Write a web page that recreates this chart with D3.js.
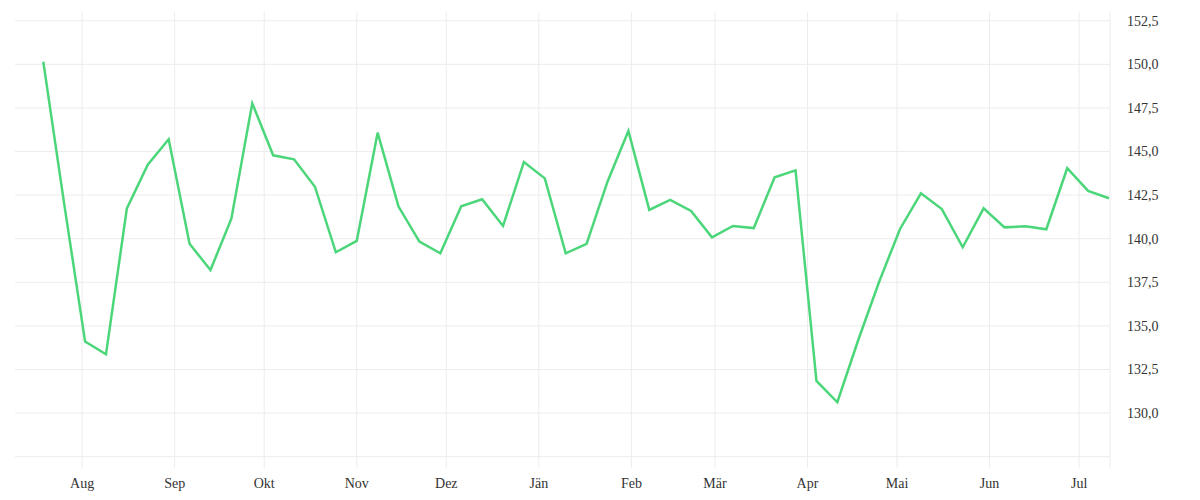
<!DOCTYPE html>
<html>
<head>
<meta charset="utf-8">
<script src="https://cdn.jsdelivr.net/npm/d3@7"></script>
<style>
  body { margin: 0; background: #fff; }
  svg text { font-family: "Liberation Serif", "DejaVu Serif", serif; fill: #333; }
</style>
</head>
<body>
<div id="chart"></div>
<script>
// weekly values, first week starting 2021-07-19
const startDate = "2021-07-19";
const values = [
    150.15, 142.0, 134.1, 133.37, 141.74, 144.24, 145.7, 139.71, 138.2, 141.15,
    147.76, 144.78, 144.55, 142.98, 139.22, 139.87, 146.08, 141.84, 139.83, 139.16,
    141.86, 142.26, 140.73, 144.4, 143.46, 139.16, 139.7, 143.27, 146.18, 141.65,
    142.22, 141.59, 140.08, 140.73, 140.61, 143.52, 143.92, 131.84, 130.62, 134.19,
    137.53, 140.56, 142.6, 141.7, 139.51, 141.74, 140.65, 140.71, 140.54, 144.04,
    142.74, 142.32
];
const monthLabels = ["Aug", "Sep", "Okt", "Nov", "Dez", "Jän", "Feb", "Mär", "Apr", "Mai", "Jun", "Jul"];
const yTicks = [127.5, 130, 132.5, 135, 137.5, 140, 142.5, 145, 147.5, 150, 152.5];

const width = 1200;
const height = 500;

const parse = d3.timeParse("%Y-%m-%d");
const t0 = parse(startDate);
const data = values.map((v, i) => ({ date: d3.timeDay.offset(t0, i * 7), value: v }));

const plotLeft = 15;
const plotRight = 1110;
const plotTop = 12;
const plotBottom = 468;

const x = d3.scaleTime()
    .domain(d3.extent(data, (d) => d.date))
    .range([43.3, 1109]);

const y = d3.scaleLinear()
    .domain([126.85, 153.0])
    .range([plotBottom, plotTop]);

const svg = d3.select("#chart")
    .append("svg")
    .attr("width", width)
    .attr("height", height);

// month ticks: first of each month after start
const months = d3.timeMonth.range(d3.timeMonth.ceil(t0), data[data.length - 1].date);

// vertical grid
svg.append("g")
    .selectAll("line")
    .data(months)
    .enter()
    .append("line")
    .attr("x1", (d) => x(d))
    .attr("x2", (d) => x(d))
    .attr("y1", plotTop)
    .attr("y2", plotBottom)
    .attr("stroke", "#ececec")
    .attr("stroke-width", 1);

// horizontal grid
svg.append("g")
    .selectAll("line")
    .data(yTicks)
    .enter()
    .append("line")
    .attr("x1", plotLeft)
    .attr("x2", plotRight)
    .attr("y1", (d) => y(d))
    .attr("y2", (d) => y(d))
    .attr("stroke", "#ececec")
    .attr("stroke-width", 1);

// right axis line
svg.append("line")
    .attr("x1", plotRight)
    .attr("x2", plotRight)
    .attr("y1", plotTop)
    .attr("y2", plotBottom)
    .attr("stroke", "#ececec");

// x labels
svg.append("g")
    .selectAll("text")
    .data(months)
    .enter()
    .append("text")
    .attr("x", (d) => x(d))
    .attr("y", 488)
    .attr("text-anchor", "middle")
    .style("font-size", "14px")
    .text((d, i) => monthLabels[i]);

// y labels (right side)
const fmt = (v) => v.toFixed(1).replace(".", ",");
svg.append("g")
    .selectAll("text")
    .data(yTicks.filter((d) => d >= 130))
    .enter()
    .append("text")
    .attr("x", 1127)
    .attr("y", (d) => y(d))
    .attr("dy", "0.35em")
    .style("font-size", "14px")
    .text(fmt);

const line = d3.line()
    .x((d) => x(d.date))
    .y((d) => y(d.value));

svg.append("path")
    .datum(data)
    .attr("d", line)
    .attr("fill", "none")
    .attr("stroke", "#4cd67a")
    .attr("stroke-width", 2.5)
    .attr("stroke-linejoin", "miter");
</script>
</body>
</html>
